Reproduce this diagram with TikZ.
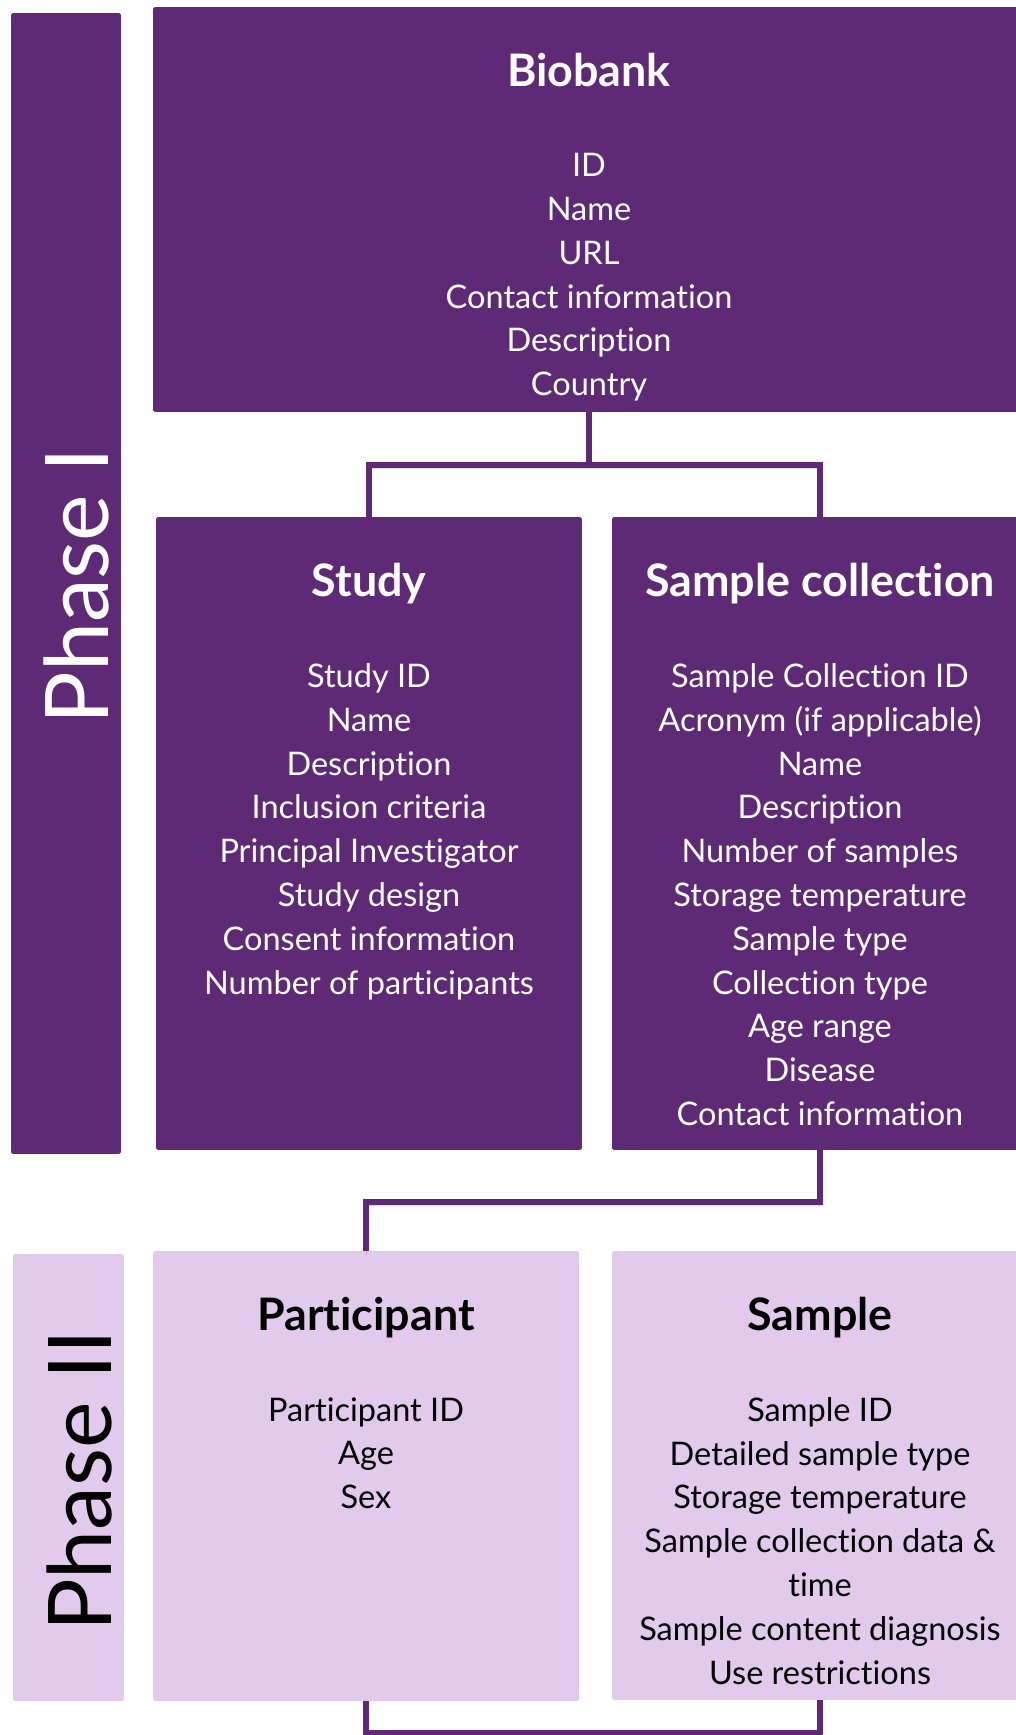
\documentclass[tikz,border=0pt]{standalone}
\usepackage{fontspec}
\setmainfont{Lato}[Ligatures=NoCommon]
\usepackage{tikz}
\usetikzlibrary{calc, positioning}

\definecolor{phaseone}{RGB}{94,41,117}
\definecolor{phasetwo}{RGB}{226,202,237}

\tikzset{
    darkbox/.style={rectangle, fill=phaseone, text=white, rounded corners=1pt, inner sep=0pt, outer sep=0pt},
    lightbox/.style={rectangle, fill=phasetwo, text=black, rounded corners=1pt, inner sep=0pt, outer sep=0pt},
    boxtitle/.style={font=\fontsize{25.5}{30}\selectfont\bfseries, inner sep=0pt, anchor=base},
    fieldlist/.style={font=\fontsize{18.5}{24.94}\selectfont, align=center, anchor=north, inner sep=0pt},
    phaselabel/.style={font=\fontsize{50}{60}\selectfont, rotate=90, inner sep=0pt},
    link/.style={draw=phaseone, line width=3.2pt,
        preaction={draw=black, opacity=0.15, transform canvas={yshift=-2pt}}}
}

\begin{document}
\begin{tikzpicture}[x=0.02cm, y=-0.02cm]
                    \useasboundingbox (0,0) rectangle (1016,1735);

                    \node[darkbox, minimum width=2.2cm, minimum height=22.82cm] (phase1) at (66, 583.5) {};
                    \node[phaselabel, text=white] (phase1T) at (77, 586) {Phase I};
                    \node[lightbox, minimum width=2.22cm, minimum height=8.94cm] (phase2) at (68.5, 1477.5) {};
                    \node[phaselabel, text=black] (phase2T) at (79, 1481) {Phase II};

                    \node[darkbox, minimum width=17.44cm, minimum height=8.1cm] (biobank) at (589, 209.5) {};
                    \node[darkbox, minimum width=8.52cm, minimum height=12.66cm] (study) at (369, 833.5) {};
                    \node[darkbox, minimum width=8.32cm, minimum height=12.66cm] (collection) at (820, 833.5) {};
                    \node[lightbox, minimum width=8.52cm, minimum height=9cm] (participant) at (366, 1476) {};
                    \node[lightbox, minimum width=8.32cm, minimum height=8.98cm] (sample) at (820, 1475.5) {};

                    \node[boxtitle, text=white] (biobankT) at ($(biobank.north) + (0, 79)$) {Biobank};
                    \node[boxtitle, text=white] (studyT) at ($(study.north) + (0, 79)$) {Study};
                    \node[boxtitle, text=white] (collectionT) at ($(collection.north) + (0, 79)$) {Sample collection};
                    \node[boxtitle] (participantT) at ($(participant.north) + (0, 79)$) {Participant};
                    \node[boxtitle] (sampleT) at ($(sample.north) + (0, 79)$) {Sample};

                    \node[fieldlist, text=white] (biobankL) at ($(biobank.north) + (0, 146)$)
                        {ID\\Name\\URL\\Contact information\\Description\\Country};
                    \node[fieldlist, text=white] (studyL) at ($(study.north) + (0, 146)$)
                        {Study ID\\Name\\Description\\Inclusion criteria\\Principal Investigator\\Study design\\Consent information\\Number of participants};
                    \node[fieldlist, text=white] (collectionL) at ($(collection.north) + (0, 146)$)
                        {Sample Collection ID\\Acronym (if applicable)\\Name\\Description\\Number of samples\\Storage temperature\\Sample type\\Collection type\\Age range\\Disease\\Contact information};
                    \node[fieldlist] (participantL) at ($(participant.north) + (0, 146)$)
                        {Participant ID\\Age\\Sex};
                    \node[fieldlist] (sampleL) at ($(sample.north) + (0, 146)$)
                        {Sample ID\\Detailed sample type\\Storage temperature\\Sample collection data \&\\time\\Sample content diagnosis\\Use restrictions};

                    \coordinate (split) at ($(biobank.south) + (0, 53)$);
                    \coordinate (bend) at ($(collection.south) + (0, 52)$);
                    \coordinate (foot) at ($(participant.south) + (0, 32)$);

                    \draw[link] (biobank.south) -- (split);
                    \draw[link] (study.north) |- (split) -| (collection.north);
                    \draw[link] (collection.south) -- (bend) -| (participant.north);
                    \draw[link] (participant.south) -- (foot) -| (sample.south);
                \end{tikzpicture}
\end{document}
